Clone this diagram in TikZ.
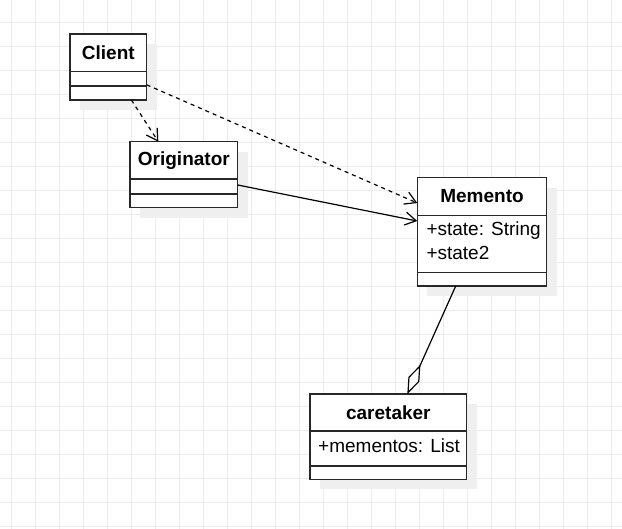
\documentclass[tikz,border=0pt]{standalone}
\usepackage{fontspec}
\setmainfont{Liberation Sans}
\usetikzlibrary{arrows.meta,calc,shadows}
\definecolor{gridc}{RGB}{235,235,235}
\definecolor{shadowc}{RGB}{239,239,239}
\definecolor{linec}{RGB}{40,40,40}
\begin{document}
\begin{tikzpicture}[x=1pt,y=-1pt,
 classbox/.style={draw=linec, line width=1.4pt, fill=white, rectangle, anchor=north west, inner sep=0pt, outer sep=0pt,
   drop shadow={shadow xshift=10pt, shadow yshift=-10pt, fill=shadowc, opacity=1}},
 sepline/.style={draw=linec, line width=1.1pt},
 title/.style={font=\bfseries\fontsize{19}{22}\selectfont, inner sep=0pt},
 attr/.style={font=\fontsize{19}{22}\selectfont, inner sep=0pt, anchor=west},
 conn/.style={line width=1.2pt, draw=black},
 dep/.style={conn, dash pattern=on 4pt off 4pt, -{Straight Barb[length=11pt,width=13pt]}},
 assoc/.style={conn, -{Straight Barb[length=11pt,width=13pt]}},
 agg/.style={conn, -{Diamond[open,length=32pt,width=12pt]}},
]
\useasboundingbox (0,0) rectangle (622,529);
\fill[white] (0,0) rectangle (622,529);
\foreach \i in {0,...,25} \draw[gridc, line width=1pt] (11+24*\i,0) -- (11+24*\i,529);
\foreach \j in {0,...,21} \draw[gridc, line width=1pt] (0,22.7+24*\j) -- (622,22.7+24*\j);

% Client
\node[classbox, minimum width=76.7pt, minimum height=66pt] (client) at (70,34) {};
\draw[sepline] ($(client.north west)+(0,37.7)$) -- ($(client.north east)+(0,37.7)$);
\draw[sepline] ($(client.north west)+(0,52)$) -- ($(client.north east)+(0,52)$);
\node[title] (clientT) at ($(client.north)+(0,18.8)$) {Client};

% Originator
\node[classbox, minimum width=107.7pt, minimum height=66pt] (orig) at (130,141.7) {};
\draw[sepline] ($(orig.north west)+(0,37.3)$) -- ($(orig.north east)+(0,37.3)$);
\draw[sepline] ($(orig.north west)+(0,52.3)$) -- ($(orig.north east)+(0,52.3)$);
\node[title] (origT) at ($(orig.north)+(0,18.7)$) {Originator};

% Memento
\node[classbox, minimum width=129.4pt, minimum height=108.3pt] (memento) at (417.3,177.7) {};
\draw[sepline] ($(memento.north west)+(0,37.6)$) -- ($(memento.north east)+(0,37.6)$);
\draw[sepline] ($(memento.north west)+(0,95)$) -- ($(memento.north east)+(0,95)$);
\node[title] (mementoT) at ($(memento.north)+(0,18.8)$) {Memento};
\node[attr] (mattr1) at ($(memento.north west)+(9,53)$) {+state: String};
\node[attr] (mattr2) at ($(memento.north west)+(9,75.6)$) {+state2};

% caretaker
\node[classbox, minimum width=156.7pt, minimum height=85.3pt] (care) at (310,394) {};
\draw[sepline] ($(care.north west)+(0,37)$) -- ($(care.north east)+(0,37)$);
\draw[sepline] ($(care.north west)+(0,72)$) -- ($(care.north east)+(0,72)$);
\node[title] (careT) at ($(care.north)+(0,18.5)$) {caretaker};
\node[attr] (cattr1) at ($(care.north west)+(8,51.7)$) {+mementos: List};

% connectors
\draw[dep] ($(client.south west)!0.80!(client.south east)$) -- ($(orig.north west)!0.263!(orig.north east)$);
\draw[dep] ($(client.north east)!0.77!(client.south east)$) -- ($(memento.north west)!0.234!(memento.south west)$);
\draw[assoc] ($(orig.north east)!0.656!(orig.south east)$) -- ($(memento.north west)!0.40!(memento.south west)$);
\draw[agg] ($(memento.south west)!0.297!(memento.south east)$) -- ($(care.north west)!0.621!(care.north east)$);
\end{tikzpicture}
\end{document}
